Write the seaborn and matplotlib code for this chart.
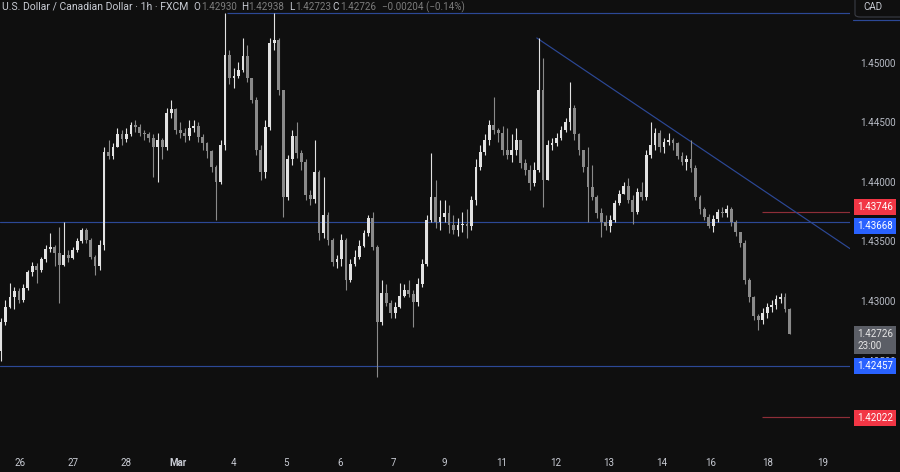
import numpy as np
import pandas as pd
import matplotlib
matplotlib.use("Agg")
import matplotlib.pyplot as plt
import matplotlib.transforms as mtrans
from matplotlib.patches import FancyBboxPatch
import seaborn as sns

# ---------------- data (2-hour bars) ----------------
first_open = 1.4258
close = [1.4282, 1.4295, 1.4303, 1.4308, 1.4301, 1.4311, 1.4324, 1.4329, 1.4326, 1.4335,
         1.4344, 1.4345, 1.4340, 1.4330, 1.4339, 1.4336, 1.4343, 1.4350, 1.4360, 1.4351,
         1.4337, 1.4329, 1.4347, 1.4425, 1.4422, 1.4429, 1.4440, 1.4436, 1.4440, 1.4448,
         1.4446, 1.4441, 1.4440, 1.4437, 1.4429, 1.4435, 1.4429, 1.4458, 1.4461, 1.4444,
         1.4441, 1.4439, 1.4445, 1.4447, 1.4438, 1.4433, 1.4426, 1.4413, 1.4400, 1.4431,
         1.4507, 1.4487, 1.4489, 1.4494, 1.4506, 1.4487, 1.4469, 1.4427, 1.4408, 1.4446,
         1.4517, 1.4519, 1.4477, 1.4387, 1.4419, 1.4439, 1.4424, 1.4417, 1.4389, 1.4386,
         1.4408, 1.4357, 1.4372, 1.4351, 1.4333, 1.4335, 1.4351, 1.4318, 1.4331, 1.4337,
         1.4346, 1.4357, 1.4370, 1.4345, 1.4282, 1.4307, 1.4298, 1.4290, 1.4295, 1.4304,
         1.4309, 1.4306, 1.4299, 1.4314, 1.4331, 1.4368, 1.4387, 1.4366, 1.4371, 1.4374,
         1.4364, 1.4360, 1.4364, 1.4365, 1.4363, 1.4385, 1.4413, 1.4425, 1.4435, 1.4448,
         1.4444, 1.4441, 1.4427, 1.4423, 1.4427, 1.4435, 1.4416, 1.4410, 1.4399, 1.4410,
         1.4477, 1.4402, 1.4431, 1.4433, 1.4437, 1.4444, 1.4450, 1.4462, 1.4440, 1.4427,
         1.4413, 1.4396, 1.4387, 1.4374, 1.4366, 1.4363, 1.4368, 1.4382, 1.4390, 1.4397,
         1.4385, 1.4375, 1.4392, 1.4387, 1.4423, 1.4431, 1.4441, 1.4429, 1.4434, 1.4435,
         1.4433, 1.4422, 1.4417, 1.4419, 1.4412, 1.4387, 1.4377, 1.4371, 1.4363, 1.4369,
         1.4375, 1.4374, 1.4377, 1.4366, 1.4358, 1.4349, 1.4318, 1.4303, 1.4287, 1.4284,
         1.4290, 1.4295, 1.4297, 1.4302, 1.4303, 1.4293, 1.42726]
high = [1.4286, 1.4301, 1.4315, 1.4312, 1.4311, 1.4314, 1.4326, 1.4333, 1.4332, 1.4337,
        1.4347, 1.4357, 1.4347, 1.4362, 1.4366, 1.4343, 1.4345, 1.4353, 1.4361, 1.4361,
        1.4353, 1.4339, 1.4351, 1.4429, 1.4435, 1.4433, 1.4445, 1.4444, 1.4445, 1.4450,
        1.4452, 1.4449, 1.4444, 1.4442, 1.4440, 1.4441, 1.4437, 1.4462, 1.4469, 1.4462,
        1.4450, 1.4445, 1.4452, 1.4452, 1.4450, 1.4440, 1.4434, 1.4427, 1.4414, 1.4435,
        1.4542, 1.4511, 1.4496, 1.4501, 1.4521, 1.4515, 1.4486, 1.4471, 1.4431, 1.4452,
        1.4521, 1.4542, 1.4521, 1.4477, 1.4423, 1.4444, 1.4450, 1.4427, 1.4419, 1.4393,
        1.4435, 1.4410, 1.4404, 1.4375, 1.4353, 1.4339, 1.4356, 1.4353, 1.4335, 1.4343,
        1.4351, 1.4360, 1.4372, 1.4375, 1.4347, 1.4318, 1.4314, 1.4301, 1.4299, 1.4315,
        1.4314, 1.4318, 1.4309, 1.4319, 1.4335, 1.4372, 1.4424, 1.4402, 1.4385, 1.4385,
        1.4381, 1.4372, 1.4370, 1.4375, 1.4377, 1.4388, 1.4419, 1.4431, 1.4440, 1.4452,
        1.4471, 1.4445, 1.4447, 1.4445, 1.4440, 1.4445, 1.4435, 1.4419, 1.4414, 1.4417,
        1.4521, 1.4504, 1.4435, 1.4437, 1.4441, 1.4447, 1.4454, 1.4484, 1.4465, 1.4441,
        1.4427, 1.4429, 1.4414, 1.4389, 1.4378, 1.4372, 1.4372, 1.4385, 1.4393, 1.4400,
        1.4403, 1.4389, 1.4395, 1.4400, 1.4427, 1.4450, 1.4445, 1.4444, 1.4437, 1.4441,
        1.4437, 1.4434, 1.4425, 1.4423, 1.4435, 1.4414, 1.4389, 1.4379, 1.4373, 1.4372,
        1.4377, 1.4379, 1.4381, 1.4379, 1.4368, 1.4358, 1.4351, 1.4319, 1.4304, 1.4289,
        1.4294, 1.4298, 1.4301, 1.4305, 1.4307, 1.4307, 1.42938]
low = [1.4250, 1.4280, 1.4294, 1.4293, 1.4298, 1.4299, 1.4309, 1.4321, 1.4315, 1.4324,
       1.4333, 1.4341, 1.4329, 1.4298, 1.4329, 1.4333, 1.4335, 1.4341, 1.4349, 1.4349,
       1.4335, 1.4322, 1.4326, 1.4343, 1.4419, 1.4419, 1.4429, 1.4431, 1.4434, 1.4439,
       1.4442, 1.4439, 1.4435, 1.4434, 1.4404, 1.4400, 1.4419, 1.4427, 1.4454, 1.4440,
       1.4437, 1.4434, 1.4435, 1.4442, 1.4434, 1.4427, 1.4420, 1.4408, 1.4368, 1.4398,
       1.4427, 1.4482, 1.4479, 1.4487, 1.4492, 1.4484, 1.4466, 1.4423, 1.4402, 1.4403,
       1.4444, 1.4511, 1.4473, 1.4371, 1.4385, 1.4414, 1.4420, 1.4410, 1.4385, 1.4381,
       1.4382, 1.4351, 1.4353, 1.4347, 1.4329, 1.4328, 1.4329, 1.4309, 1.4316, 1.4329,
       1.4335, 1.4345, 1.4355, 1.4343, 1.4236, 1.4280, 1.4296, 1.4286, 1.4286, 1.4294,
       1.4303, 1.4303, 1.4278, 1.4296, 1.4312, 1.4329, 1.4366, 1.4361, 1.4360, 1.4366,
       1.4357, 1.4356, 1.4355, 1.4358, 1.4353, 1.4360, 1.4381, 1.4410, 1.4423, 1.4431,
       1.4440, 1.4434, 1.4423, 1.4419, 1.4417, 1.4423, 1.4412, 1.4406, 1.4393, 1.4397,
       1.4408, 1.4379, 1.4403, 1.4427, 1.4430, 1.4435, 1.4442, 1.4444, 1.4435, 1.4423,
       1.4408, 1.4366, 1.4385, 1.4370, 1.4354, 1.4360, 1.4358, 1.4366, 1.4381, 1.4390,
       1.4382, 1.4365, 1.4373, 1.4385, 1.4385, 1.4420, 1.4427, 1.4425, 1.4424, 1.4431,
       1.4427, 1.4419, 1.4414, 1.4410, 1.4408, 1.4385, 1.4373, 1.4368, 1.4361, 1.4358,
       1.4366, 1.4371, 1.4371, 1.4363, 1.4355, 1.4345, 1.4314, 1.4299, 1.4284, 1.4276,
       1.4281, 1.4286, 1.4291, 1.4293, 1.4298, 1.4291, 1.42723]

day_labels = ["26", "27", "28", "Mar", "4", "5", "6", "7", "9", "11", "12", "13",
              "14", "16", "18", "19"]
day_label_bar = [4.2, 16.1, 27.9, 39.5, 51.8, 63.6, 75.7, 87.5, 98.9, 111.8, 123.9,
                 135.7, 147.5, 158.5, 171.2, 183.3]
price_ticks = [1.425, 1.430, 1.435, 1.440, 1.445, 1.450]

resistance_top = 1.4542
resistance_top_from = 50.4
blue_levels = [1.43668, 1.42457]
red_levels = [1.43746, 1.42022]
red_levels_from = 169.9
trend_x = [119.6, 189.5]
trend_y = [1.4521, 1.4344]

last_price = 1.42726
countdown = "23:00"
hdr_title = "U.S. Dollar / Canadian Dollar · 1h · FXCM"
hdr_ohlc = [("O", "1.42930"), ("H", "1.42938"), ("L", "1.42723"), ("C", "1.42726")]
hdr_change = "−0.00204 (−0.14%)"

# ---------------- style ----------------
BG = "#0f0f0f"
UP = "#e2e2e2"
DOWN = "#8a8a8a"
LINE_BLUE = "#2c4896"
LINE_RED = "#8e2e38"
TXT = "#c9ccd4"

sns.set_theme(style="dark", rc={"axes.facecolor": BG, "figure.facecolor": BG})
plt.rcParams["font.family"] = ["Roboto", "DejaVu Sans"]

df = pd.DataFrame({"close": close, "high": high, "low": low})
df["open"] = df["close"].shift(1).fillna(first_open)
df["bar"] = np.arange(len(df))
df["up"] = df["close"] >= df["open"]
df["body_lo"] = df[["open", "close"]].min(axis=1)
df["body_h"] = (df["close"] - df["open"]).abs().clip(lower=0.00003)
df["high"] = df[["high", "open", "close"]].max(axis=1)
df["low"] = df[["low", "open", "close"]].min(axis=1)

fig = plt.figure(figsize=(9, 4.72), dpi=100, facecolor=BG)
ax = fig.add_axes([0, 24 / 472, 850 / 900, 448 / 472])
ax.set_facecolor(BG)
XMAX = 189.5
ax.set_xlim(-0.22, XMAX)
ax.set_ylim(1.41765, 1.45529)

colors = np.where(df["up"], UP, DOWN)
ax.vlines(df["bar"], df["low"], df["high"], colors=colors, linewidth=0.8, zorder=2)
ax.bar(df["bar"], df["body_h"], bottom=df["body_lo"], width=0.62, color=colors,
       linewidth=0, zorder=3)

# levels
ax.hlines(resistance_top, resistance_top_from, XMAX, color=LINE_BLUE, lw=0.85, zorder=1)
for lv in blue_levels:
    ax.axhline(lv, color=LINE_BLUE, lw=0.85, zorder=1)
for lv in red_levels:
    ax.hlines(lv, red_levels_from, XMAX, color=LINE_RED, lw=0.85, zorder=1)
sns.lineplot(x=trend_x, y=trend_y, ax=ax, color=LINE_BLUE, lw=0.85, zorder=1)

# axes
for s in ax.spines.values():
    s.set_visible(False)
ax.grid(False)
ax.yaxis.tick_right()
ax.set_yticks(price_ticks, [f"{p:.5f}" for p in price_ticks])
ax.tick_params(axis="y", length=0, pad=7.5, labelsize=7, labelcolor="#b8bcc6")
ax.set_xticks(day_label_bar, day_labels)
ax.tick_params(axis="x", length=0, pad=7, labelsize=7, labelcolor=TXT)
for t in ax.get_xticklabels():
    if t.get_text() == "Mar":
        t.set_fontweight("bold")
ax.set_xlabel("")
ax.set_ylabel("")

# price labels on the scale
tr = mtrans.blended_transform_factory(fig.transFigure, ax.transData)
def tag(price, text, fc, dy=0, tc="white"):
    ax.annotate(text, xy=(857 / 900, price), xycoords=tr, xytext=(0, dy),
                textcoords="offset points", ha="left", va="center", fontsize=7,
                color=tc, annotation_clip=False, zorder=10,
                bbox=dict(boxstyle="square,pad=0.32", fc=fc, ec="none"))

tag(red_levels[0], f"{red_levels[0]:.5f}", "#f23645", dy=3.5)
tag(blue_levels[0], f"{blue_levels[0]:.5f}", "#2962ff", dy=-3.0)
tag(blue_levels[1], f"{blue_levels[1]:.5f}", "#2962ff", dy=-0.5)
tag(red_levels[1], f"{red_levels[1]:.5f}", "#f23645", dy=-0.5)
tag(last_price, f"{last_price:.5f}\n{countdown}", "#5b5e66", dy=-4.5, tc="#e6e6e6")

# header
yh = 1 - 7 / 472
fig.text(2 / 900, yh, hdr_title, color=TXT, fontsize=7.5, va="center")
xs = [(193, 201), (241, 248), (289, 295), (332, 340)]
for (lab, val), (xl, xv) in zip(hdr_ohlc, xs):
    fig.text(xl / 900, yh, lab, color=TXT, fontsize=7.1, va="center")
    fig.text(xv / 900, yh, val, color="#7c7c7c", fontsize=7.1, va="center")
fig.text(382 / 900, yh, hdr_change, color="#7c7c7c", fontsize=7.1, va="center")

# currency box
fig.patches.append(FancyBboxPatch((855 / 900, 455 / 472), 60 / 900, 30 / 472,
                                  boxstyle="round,pad=0,rounding_size=0.006",
                                  transform=fig.transFigure, fc=BG, ec="#3a3d45", lw=0.8))
fig.text(863 / 900, 1 - 7 / 472, "CAD", color=TXT, fontsize=7, va="center")
fig.lines.append(plt.Line2D([853 / 900, 1.0], [1 - 20 / 472, 1 - 20 / 472],
                            transform=fig.transFigure, color=LINE_BLUE, lw=0.85))

fig.savefig("out.png", dpi=100, facecolor=BG)
